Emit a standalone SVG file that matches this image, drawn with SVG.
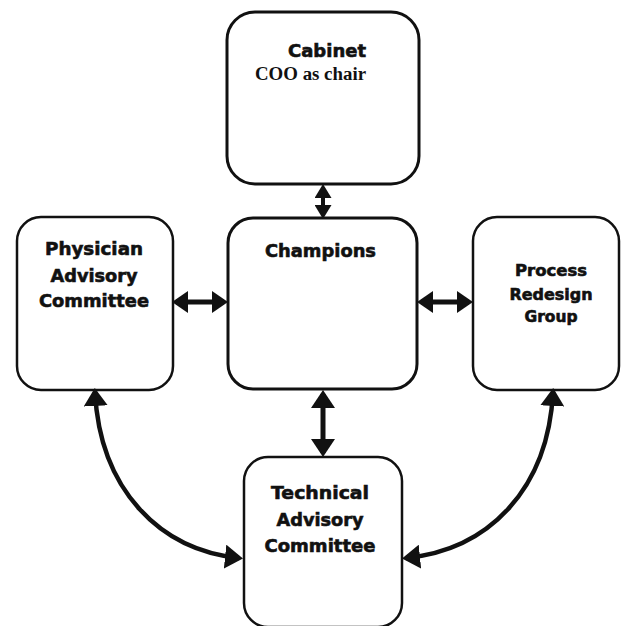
<svg xmlns="http://www.w3.org/2000/svg" width="621" height="626" viewBox="0 0 621 626">
<style>
.box{fill:#fff;stroke:#111;stroke-width:2.5}
.thick{stroke-width:3}
.t{font-family:"DejaVu Sans","Liberation Sans",Arial,sans-serif;font-weight:bold;fill:#111;stroke:#111;stroke-width:0.6;text-anchor:middle}
.s{font-family:"Liberation Serif","Times New Roman",serif;font-weight:bold;fill:#111}
.c{fill:none;stroke:#111}
</style>
<defs>
<marker id="ah" markerUnits="userSpaceOnUse" markerWidth="16" markerHeight="22" refX="12" refY="11" orient="auto-start-reverse" viewBox="0 0 16 22">
<path d="M0,0 L16,11 L0,22 Z" fill="#111"/>
</marker>
<marker id="ahc" markerUnits="userSpaceOnUse" markerWidth="18" markerHeight="24" refX="14" refY="12" orient="auto-start-reverse" viewBox="0 0 18 24">
<path d="M0,0 L18,12 L0,24 Z" fill="#111"/>
</marker>
<marker id="ahs" markerUnits="userSpaceOnUse" markerWidth="14" markerHeight="17" refX="10" refY="8.5" orient="auto-start-reverse" viewBox="0 0 14 17">
<path d="M0,0 L14,8.5 L0,17 Z" fill="#111"/>
</marker>
</defs>
<g id="cabinet">
<rect class="box thick" x="227" y="12" width="192" height="172" rx="28"/>
<text class="t" x="327" y="57" font-size="17.5" textLength="78" lengthAdjust="spacingAndGlyphs">Cabinet</text>
<text class="s" x="255" y="80" font-size="18" textLength="111" lengthAdjust="spacingAndGlyphs">COO as chair</text>
</g>
<g id="champions">
<rect class="box thick" x="228" y="218" width="189" height="171" rx="25"/>
<text class="t" x="320.5" y="257" font-size="18" textLength="111" lengthAdjust="spacingAndGlyphs">Champions</text>
</g>
<g id="physician">
<rect class="box" x="17" y="217" width="156" height="173" rx="24"/>
<text class="t" x="94" y="255" font-size="17.5" textLength="98" lengthAdjust="spacingAndGlyphs">Physician</text>
<text class="t" x="94" y="282" font-size="17.5" textLength="87" lengthAdjust="spacingAndGlyphs">Advisory</text>
<text class="t" x="94" y="307" font-size="17.5" textLength="110" lengthAdjust="spacingAndGlyphs">Committee</text>
</g>
<g id="process">
<rect class="box" x="473" y="217" width="146" height="173" rx="24"/>
<text class="t" x="551" y="276" font-size="15.5" textLength="72" lengthAdjust="spacingAndGlyphs">Process</text>
<text class="t" x="551" y="300" font-size="15.5" textLength="83" lengthAdjust="spacingAndGlyphs">Redesign</text>
<text class="t" x="551" y="322" font-size="15.5" textLength="53" lengthAdjust="spacingAndGlyphs">Group</text>
</g>
<g id="technical">
<rect class="box" x="244" y="457" width="158" height="170" rx="24"/>
<text class="t" x="320" y="499" font-size="17.5" textLength="98" lengthAdjust="spacingAndGlyphs">Technical</text>
<text class="t" x="320" y="526" font-size="17.5" textLength="87" lengthAdjust="spacingAndGlyphs">Advisory</text>
<text class="t" x="320" y="552" font-size="17.5" textLength="111" lengthAdjust="spacingAndGlyphs">Committee</text>
</g>
<g id="connectors">
<path class="c" stroke-width="4" d="M323,188 V215" marker-start="url(#ahs)" marker-end="url(#ahs)"/>
<path class="c" stroke-width="5" d="M176,302 H224" marker-start="url(#ah)" marker-end="url(#ah)"/>
<path class="c" stroke-width="5" d="M421,302 H469" marker-start="url(#ah)" marker-end="url(#ah)"/>
<path class="c" stroke-width="5" d="M323,394 V453" marker-start="url(#ahc)" marker-end="url(#ahc)"/>
<path class="c" stroke-width="4.5" d="M95,392 C100,490 160,550 239,558" marker-start="url(#ahc)" marker-end="url(#ahc)"/>
<path class="c" stroke-width="4.5" d="M553,392 C548,490 488,550 406,558" marker-start="url(#ahc)" marker-end="url(#ahc)"/>
</g>
</svg>
